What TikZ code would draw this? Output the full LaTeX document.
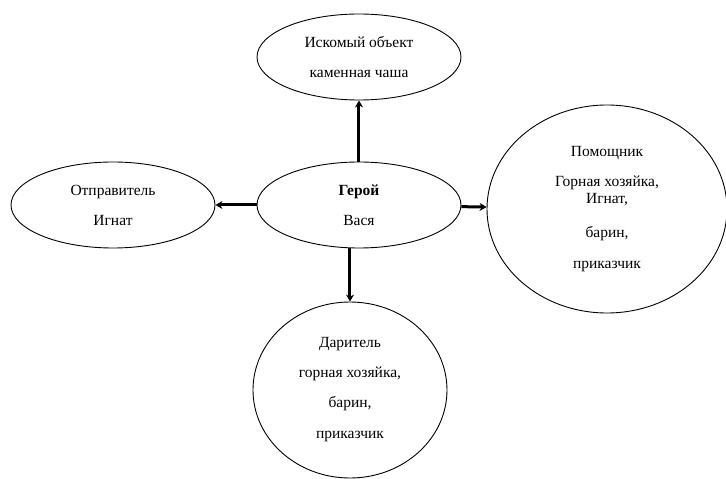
\documentclass[tikz,border=0pt]{standalone}
\usepackage{fontspec}
\setmainfont{Liberation Serif}
\usetikzlibrary{shapes.geometric, arrows.meta}
\tikzstyle{role} = [ellipse, draw=black, line width=0.9pt, minimum width=204pt, minimum height=86pt, inner sep=0pt, text centered, align=center, font=\fontsize{15.5}{17}\selectfont]
\tikzstyle{bigrole} = [role, minimum width=240pt, minimum height=208pt]
\tikzstyle{donorrole} = [role, minimum width=194pt, minimum height=176pt]
\tikzstyle{arrow} = [line width=3pt, -{Stealth[length=7pt, width=8pt]}]

\begin{document}
\begin{tikzpicture}
      \useasboundingbox (-359pt,205pt) rectangle (367pt,-274pt);
      % Nodes
      \node (hero) [role] at (0,0) {\textbf{Герой}\\[13pt]Вася};
      \node (object) [role, above of=hero, node distance=148pt] {Искомый объект\\[13pt]каменная чаша};
      \node (sender) [role, left of=hero, node distance=246pt] {Отправитель\\[13pt]Игнат};
      \node (helper) [bigrole, right of=hero, node distance=248pt, yshift=-4pt] {Помощник\\[13pt]Горная хозяйка,\\Игнат,\\[17pt]барин,\\[14pt]приказчик};
      \node (donor) [donorrole, below of=hero, node distance=185pt, xshift=-9pt] {Даритель\\[13pt]горная хозяйка,\\[13pt]барин,\\[14pt]приказчик};
      % Arrows
      \draw [arrow] (hero) -- (object);
      \draw [arrow] (hero) -- (sender);
      \draw [arrow] (hero) -- (helper);
      \draw [arrow] (donor.north |- hero.south) -- (donor.north);
    \end{tikzpicture}
\end{document}
